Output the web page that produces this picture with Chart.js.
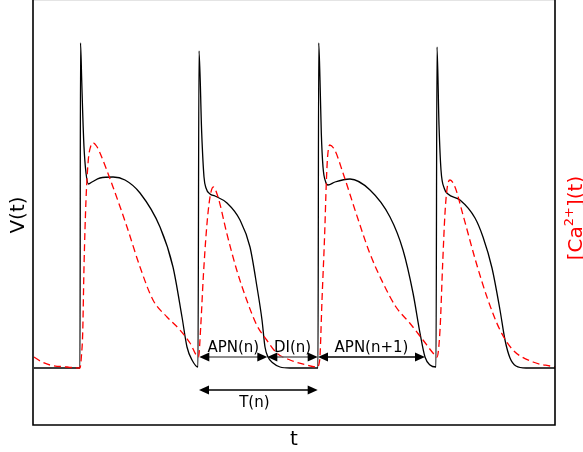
<!DOCTYPE html>
<html lang="en">
<head>
  <meta charset="UTF-8" />
  <title>V(t) and [Ca2+](t)</title>
  <style>
    body {
      margin: 0;
      padding: 0;
      background: white;
    }

    #wrap {
      width: 583px;
      height: 452px;
    }
  </style>
</head>
<body>

<div id="wrap">
  <canvas id="apChart" width="583" height="452"></canvas>
</div>

<script src="https://cdn.jsdelivr.net/npm/chart.js"></script>
<script>
// membrane voltage trace (arbitrary units)
const vTime = [
  0, 46, 46.5, 47.7, 48.7, 50, 52, 54.5, 58, 66, 79, 91, 106, 126, 139, 148, 153, 158, 164,
  165, 167.7, 170, 172, 176, 181, 193, 206, 216, 223, 228, 231, 234, 239, 246, 256, 284,
  284.7, 286, 287.3, 289, 291.7, 294, 301, 316, 336, 356, 369, 379, 386, 391, 396, 402,
  403, 405, 407, 410.5, 414, 426, 441, 449, 458, 466, 471, 476, 482, 492, 522
];
const vValues = [
  57, 57, 382, 345, 312, 278, 252, 241, 243, 247, 248, 245, 232, 198, 158, 108, 78, 65, 58,
  374, 292, 248, 237, 231, 229, 222, 205, 178, 138, 105, 78, 68, 62, 58, 57, 57,
  382, 345, 292, 258, 243, 240, 243, 246, 235, 208, 175, 132, 92, 68, 60, 58,
  378, 300, 255, 236, 231, 225, 207, 188, 157, 115, 85, 67, 59, 57, 57
];

// calcium transient (arbitrary units)
const caTime = [
  0, 8, 16, 33, 46, 47.5, 48.7, 50, 52, 54.3, 56.5, 59.3, 62.5, 66, 79, 93, 106, 119, 133, 146, 156,
  164.5, 166.7, 169.3, 172.7, 176, 179.3, 184, 192.7, 202.7, 212.7, 222.7, 232.7, 242.7, 256, 272.7,
  283, 285.7, 288, 290.7, 292.3, 293.5, 295.7, 300.7, 309, 322, 335.7, 349, 362, 375.7, 389, 400.7,
  403, 406, 408.7, 411, 413.3, 416, 421, 429, 442, 454, 466, 479, 499, 516, 522
];
const caValues = [
  68, 63, 60, 58, 57, 70, 92, 158, 225, 265, 278, 282, 279, 272, 238, 198, 158, 125, 108, 95, 82,
  68, 98, 148, 198, 228, 238, 228, 192, 155, 125, 100, 85, 72, 65, 60,
  58, 65, 125, 192, 242, 267, 280, 275, 252, 212, 172, 142, 118, 102, 85, 70,
  68, 95, 162, 212, 238, 245, 238, 210, 163, 125, 95, 75, 63, 59, 58
];

// interval markers
const intervalLabels = ['APN(n)', 'DI(n)', 'APN(n+1)', 'T(n)'];
const intervalStart = [165.3, 233.3, 284, 165];
const intervalEnd = [233.3, 283.7, 391, 283.7];
const intervalLevel = [68, 68, 68, 35];

const xTitle = 't';
const vTitle = 'V(t)';

function toPoints(xs, ys) {
  return xs.map((x, i) => ({ x: x, y: ys[i] }));
}

function drawArrow(ctx, x1, x2, y, color) {
  const head = 10, half = 4.5;
  ctx.strokeStyle = color;
  ctx.fillStyle = '#000';
  ctx.lineWidth = 1.3;
  ctx.beginPath();
  ctx.moveTo(x1 + head * 0.5, y);
  ctx.lineTo(x2 - head * 0.5, y);
  ctx.stroke();
  ctx.beginPath();
  ctx.moveTo(x1, y);
  ctx.lineTo(x1 + head, y - half);
  ctx.lineTo(x1 + head, y + half);
  ctx.closePath();
  ctx.fill();
  ctx.beginPath();
  ctx.moveTo(x2, y);
  ctx.lineTo(x2 - head, y - half);
  ctx.lineTo(x2 - head, y + half);
  ctx.closePath();
  ctx.fill();
}

const notesPlugin = {
  id: 'notes',
  afterDatasetsDraw(chart) {
    const { ctx, chartArea: a, scales } = chart;
    ctx.save();

    // axes box
    ctx.strokeStyle = '#e4e4e4';
    ctx.lineWidth = 1;
    ctx.beginPath();
    ctx.moveTo(a.left, 0.5);
    ctx.lineTo(a.right, 0.5);
    ctx.stroke();

    ctx.strokeStyle = '#000';
    ctx.lineWidth = 1.6;
    ctx.beginPath();
    ctx.moveTo(a.left, a.top);
    ctx.lineTo(a.left, a.bottom);
    ctx.lineTo(a.right, a.bottom);
    ctx.lineTo(a.right, a.top);
    ctx.stroke();

    // interval arrows
    ctx.font = '15px "DejaVu Sans"';
    ctx.textAlign = 'center';
    ctx.textBaseline = 'alphabetic';
    intervalLabels.forEach((label, i) => {
      const x1 = scales.x.getPixelForValue(intervalStart[i]);
      const x2 = scales.x.getPixelForValue(intervalEnd[i]);
      const y = scales.y.getPixelForValue(intervalLevel[i]);
      drawArrow(ctx, x1, x2, y, i < 2 ? '#666' : '#000');
      ctx.fillStyle = '#000';
      const below = i === 3;
      ctx.fillText(label, (x1 + x2) / 2 - (below ? 4 : 0), below ? y + 17 : y - 5.5);
    });

    // axis titles
    ctx.fillStyle = '#000';
    ctx.font = '20px "DejaVu Sans"';
    ctx.fillText(xTitle, (a.left + a.right) / 2, 445);

    ctx.save();
    ctx.translate(24, 215);
    ctx.rotate(-Math.PI / 2);
    ctx.fillText(vTitle, 0, 0);
    ctx.restore();

    // [Ca2+](t) with superscript
    ctx.save();
    ctx.translate(582, 218);
    ctx.rotate(-Math.PI / 2);
    ctx.fillStyle = '#ff0000';
    ctx.textAlign = 'left';
    const big = '20px "DejaVu Sans"', small = '13px "DejaVu Sans"';
    const parts = [['[Ca', big, 0], ['2+', small, -9], ['](t)', big, 0]];
    let total = 0;
    parts.forEach(p => { ctx.font = p[1]; total += ctx.measureText(p[0]).width; });
    let cx = -total / 2;
    parts.forEach(p => {
      ctx.font = p[1];
      ctx.fillText(p[0], cx, p[2]);
      cx += ctx.measureText(p[0]).width;
    });
    ctx.restore();

    ctx.restore();
  }
};

new Chart(document.getElementById('apChart').getContext('2d'), {
  type: 'line',
  data: {
    datasets: [
      {
        label: '[Ca2+](t)',
        data: toPoints(caTime, caValues),
        yAxisID: 'y2',
        borderColor: '#ff0000',
        borderWidth: 1.3,
        borderDash: [7, 4],
        pointRadius: 0,
        fill: false,
        cubicInterpolationMode: 'monotone',
        order: 1
      },
      {
        label: 'V(t)',
        data: toPoints(vTime, vValues),
        yAxisID: 'y',
        borderColor: '#000',
        borderWidth: 1.3,
        pointRadius: 0,
        fill: false,
        cubicInterpolationMode: 'monotone',
        order: 2
      }
    ]
  },
  options: {
    responsive: false,
    animation: false,
    layout: { padding: { left: 33, right: 28, top: 0, bottom: 27 } },
    scales: {
      x: { type: 'linear', min: -1, max: 521, display: false },
      y: { min: 0, max: 425, display: false },
      y2: { min: 0, max: 425, display: false, position: 'right' }
    },
    plugins: {
      legend: { display: false },
      tooltip: { enabled: false }
    }
  },
  plugins: [notesPlugin]
});
</script>
</body>
</html>
